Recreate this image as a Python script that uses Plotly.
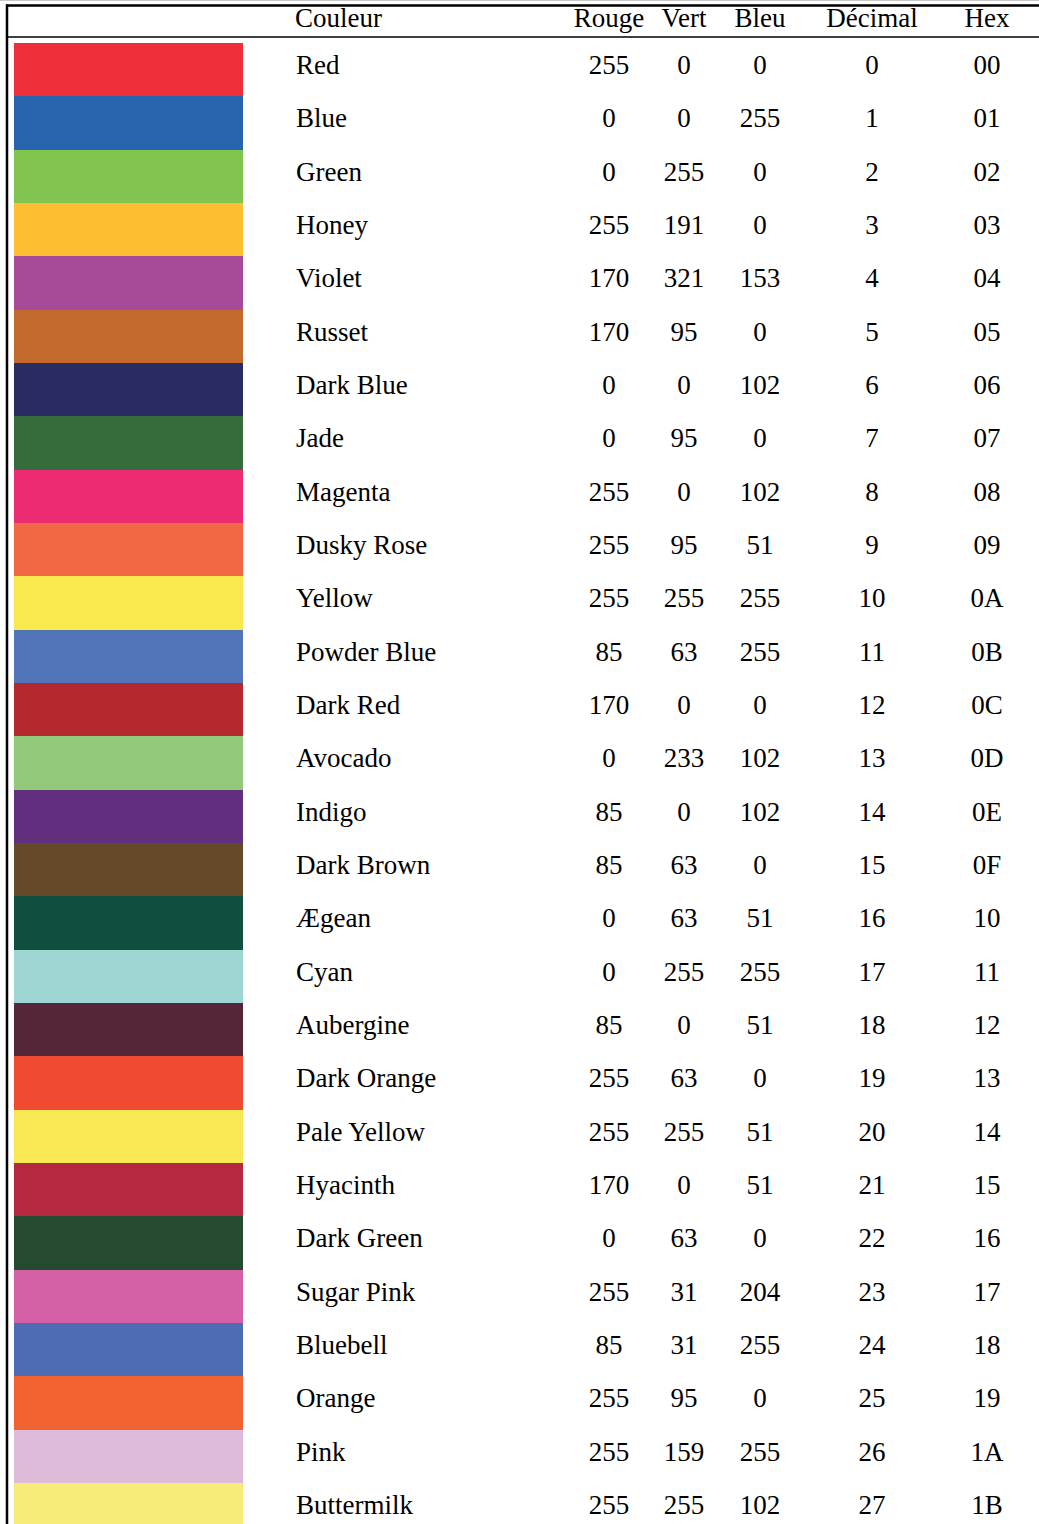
import plotly.graph_objects as go

# Colour table data
names = ['Red', 'Blue', 'Green', 'Honey', 'Violet', 'Russet', 'Dark Blue', 'Jade',
         'Magenta', 'Dusky Rose', 'Yellow', 'Powder Blue', 'Dark Red', 'Avocado',
         'Indigo', 'Dark Brown', 'Ægean', 'Cyan', 'Aubergine', 'Dark Orange',
         'Pale Yellow', 'Hyacinth', 'Dark Green', 'Sugar Pink', 'Bluebell',
         'Orange', 'Pink', 'Buttermilk']
rouge = [255, 0, 0, 255, 170, 170, 0, 0, 255, 255, 255, 85, 170, 0,
         85, 85, 0, 0, 85, 255, 255, 170, 0, 255, 85, 255, 255, 255]
vert = [0, 0, 255, 191, 321, 95, 0, 95, 0, 95, 255, 63, 0, 233,
        0, 63, 63, 255, 0, 63, 255, 0, 63, 31, 31, 95, 159, 255]
bleu = [0, 255, 0, 0, 153, 0, 102, 0, 102, 51, 255, 255, 0, 102,
        102, 0, 51, 255, 51, 0, 51, 51, 0, 204, 255, 0, 255, 102]
decimal = list(range(28))
hexcodes = ['00', '01', '02', '03', '04', '05', '06', '07', '08', '09', '0A', '0B',
            '0C', '0D', '0E', '0F', '10', '11', '12', '13', '14', '15', '16', '17',
            '18', '19', '1A', '1B']
swatches = ['#EE2E39', '#2864AE', '#82C450', '#FDBF31', '#A84A9A', '#C2692C',
            '#292C62', '#366B3B', '#ED2B72', '#F16944', '#F9E84E', '#5274B9',
            '#B5282F', '#94C97C', '#612F7E', '#654A29', '#104E3F', '#9ED6D4',
            '#55263A', '#F04A33', '#F8E853', '#B6283F', '#264A2F', '#D461A5',
            '#4D6CB3', '#F16331', '#DDBAD7', '#F7EB7A']
headers = ['Couleur', 'Rouge', 'Vert', 'Bleu', 'Décimal', 'Hex']

# Layout (pixels)
W, H = 1039, 1524
row_top = 43
pitch = 53.33
rows = list(range(len(names)))
text_shift = -0.045  # text sits a little above the swatch centre
header_row = (20 - (row_top + pitch / 2)) / pitch

font = dict(family='Liberation Serif', size=27, color='black')

fig = go.Figure()

# swatches
fig.add_trace(go.Bar(
    y=rows, x=[229] * len(rows), base=14, orientation='h', width=1,
    marker=dict(color=swatches, line=dict(width=0)),
    hoverinfo='skip', showlegend=False
))

ty = [r + text_shift for r in rows]

# colour names
fig.add_trace(go.Scatter(
    x=[296] * len(rows), y=ty, text=names, mode='text',
    textposition='middle right', textfont=font,
    hoverinfo='skip', showlegend=False
))

# numeric columns
for xc, vals in [(609, rouge), (684, vert), (760, bleu), (872, decimal), (987, hexcodes)]:
    fig.add_trace(go.Scatter(
        x=[xc] * len(rows), y=ty, text=[str(v) for v in vals], mode='text',
        textposition='middle center', textfont=font,
        hoverinfo='skip', showlegend=False
    ))

# header
fig.add_trace(go.Scatter(
    x=[295], y=[header_row], text=[headers[0]], mode='text',
    textposition='middle right', textfont=font, hoverinfo='skip', showlegend=False
))
fig.add_trace(go.Scatter(
    x=[609, 684, 760, 872, 987], y=[header_row] * 5, text=headers[1:], mode='text',
    textposition='middle center', textfont=font, hoverinfo='skip', showlegend=False
))

# y range so that row i is centred at row_top + pitch*(i+0.5) px
y0 = -(row_top + pitch / 2) / pitch
y1 = (H - row_top - pitch / 2) / pitch

fig.update_layout(
    width=W, height=H,
    margin=dict(l=0, r=0, t=0, b=0),
    paper_bgcolor='white', plot_bgcolor='white',
    xaxis=dict(range=[0, W], visible=False, fixedrange=True),
    yaxis=dict(range=[y1, y0], visible=False, fixedrange=True),
    bargap=0,
    shapes=[
        dict(type='line', xref='paper', yref='paper', x0=0, x1=1,
             y0=1 - 0.5 / H, y1=1 - 0.5 / H, line=dict(color='#c8c8c8', width=1)),
        dict(type='line', xref='paper', yref='paper', x0=6 / W, x1=1,
             y0=1 - 5.5 / H, y1=1 - 5.5 / H, line=dict(color='black', width=2.5)),
        dict(type='line', xref='paper', yref='paper', x0=7 / W, x1=1,
             y0=1 - 37 / H, y1=1 - 37 / H, line=dict(color='black', width=1.5)),
        dict(type='line', xref='paper', yref='paper', x0=7 / W, x1=7 / W,
             y0=0, y1=1 - 4.5 / H, line=dict(color='black', width=2.5)),
    ],
)

# drop the default page margin so the figure sits at the window's corner
fig.write_html("out.html", config={'displayModeBar': False},
               post_script="document.body.style.margin='0px';")
